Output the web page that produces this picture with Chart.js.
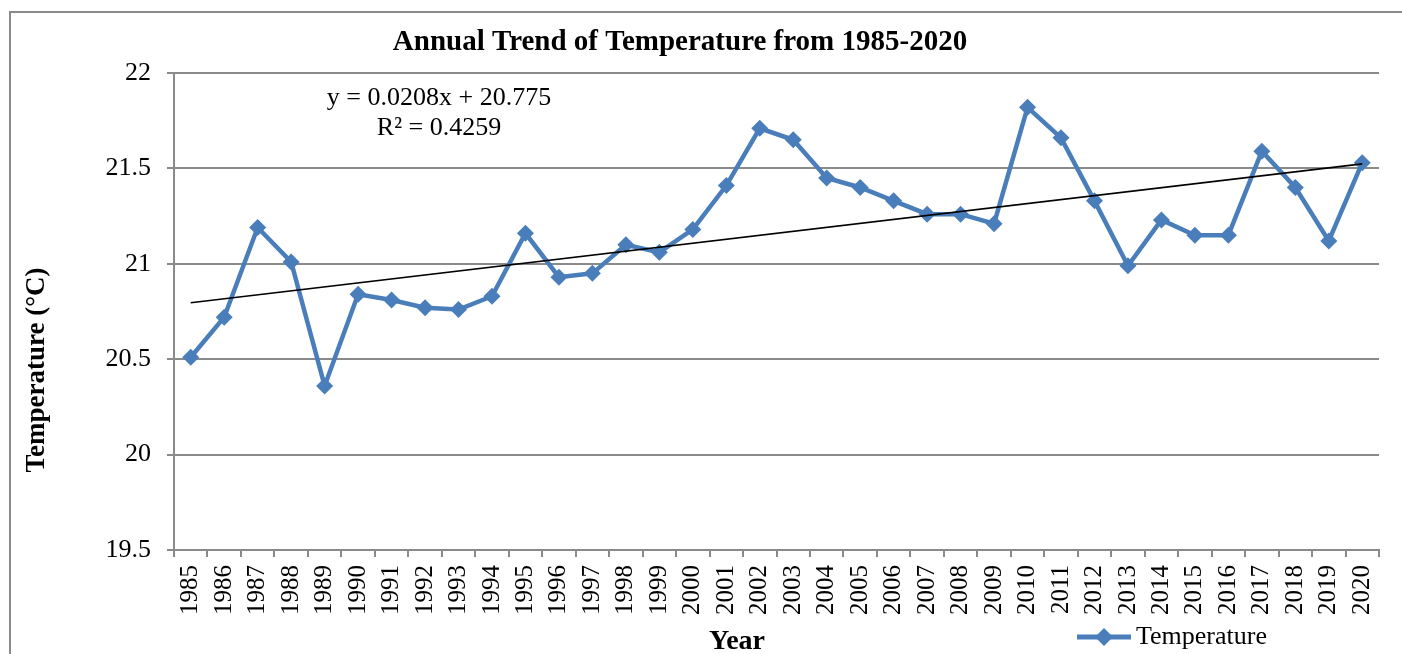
<!DOCTYPE html>
<html>
<head>
<meta charset="utf-8">
<script src="https://cdn.jsdelivr.net/npm/chart.js@4"></script>
<style>
html,body{margin:0;padding:0;background:#fff;}
#wrap{width:1402px;height:654px;position:relative;overflow:hidden;}
</style>
</head>
<body>
<div id="wrap"><canvas id="c" width="1402" height="654"></canvas></div>
<script>
const years = ['1985','1986','1987','1988','1989','1990','1991','1992','1993','1994','1995','1996','1997','1998','1999','2000','2001','2002','2003','2004','2005','2006','2007','2008','2009','2010','2011','2012','2013','2014','2015','2016','2017','2018','2019','2020'];
const temperature = [20.51,20.72,21.19,21.01,20.36,20.84,20.81,20.77,20.76,20.83,21.16,20.93,20.95,21.10,21.06,21.18,21.41,21.71,21.65,21.45,21.40,21.33,21.26,21.26,21.21,21.82,21.66,21.33,20.99,21.23,21.15,21.15,21.59,21.40,21.12,21.53];
const yTicks = [19.5,20,20.5,21,21.5,22];
const trendSlope = 0.0208;
const trendIntercept = 20.775;
const trendLabel = 'y = 0.0208x + 20.775';
const r2Label = 'R² = 0.4259';
const titleText = 'Annual Trend of Temperature from 1985-2020';
const xTitle = 'Year';
const yTitle = 'Temperature (°C)';
const seriesName = 'Temperature';

// linear trendline from the equation shown in the chart (x = 1..n)
const trend = years.map((_, i) => (i === 0 || i === years.length - 1) ? trendIntercept + trendSlope * (i + 1) : null);

const BLUE = '#4A7EBB';
const GRID = '#8A8A8A';
const SERIF = '"Liberation Serif","Times New Roman",serif';

const textPlugin = {
  id: 'texts',
  beforeDraw(chart) {
    const ctx = chart.ctx;
    ctx.save();
    ctx.strokeStyle = GRID;
    ctx.lineWidth = 2;
    ctx.beginPath();
    ctx.moveTo(10, 660);
    ctx.lineTo(10, 12);
    ctx.lineTo(1402, 12);
    ctx.stroke();
    ctx.restore();
  },
  afterDraw(chart) {
    const ctx = chart.ctx;
    ctx.save();
    ctx.fillStyle = '#000';
    ctx.textBaseline = 'middle';
    ctx.textAlign = 'center';
    ctx.font = 'bold 29px ' + SERIF;
    ctx.fillText(titleText, 680, 43);
    ctx.font = '26px ' + SERIF;
    ctx.fillText(trendLabel, 439, 98);
    ctx.fillText(r2Label, 439, 128);
    ctx.font = 'bold 28px ' + SERIF;
    ctx.fillText(xTitle, 737, 642);
    ctx.save();
    ctx.translate(37, 370);
    ctx.rotate(-Math.PI / 2);
    ctx.font = 'bold 27px ' + SERIF;
    ctx.fillText(yTitle, 0, 0);
    ctx.restore();
    // legend
    ctx.strokeStyle = BLUE;
    ctx.lineWidth = 5;
    ctx.beginPath();
    ctx.moveTo(1077, 637);
    ctx.lineTo(1131, 637);
    ctx.stroke();
    ctx.fillStyle = BLUE;
    ctx.beginPath();
    ctx.moveTo(1104, 628); ctx.lineTo(1113, 637); ctx.lineTo(1104, 646); ctx.lineTo(1095, 637);
    ctx.closePath(); ctx.fill();
    ctx.fillStyle = '#000';
    ctx.textAlign = 'left';
    ctx.font = '26px ' + SERIF;
    ctx.fillText(seriesName, 1136, 637);
    ctx.restore();
  }
};

new Chart(document.getElementById('c'), {
  type: 'line',
  data: {
    labels: years,
    datasets: [
      {
        label: seriesName,
        data: temperature,
        borderColor: BLUE,
        backgroundColor: BLUE,
        borderWidth: 4.5,
        pointStyle: 'rectRot',
        pointRadius: 8.5,
        pointHoverRadius: 8.5,
        pointBorderWidth: 0,
        tension: 0,
        order: 2
      },
      {
        label: 'Linear trend',
        data: trend,
        borderColor: '#000',
        borderWidth: 1.6,
        pointRadius: 0,
        spanGaps: true,
        tension: 0,
        order: 1
      }
    ]
  },
  options: {
    responsive: false,
    animation: false,
    events: [],
    layout: { padding: { left: 0, right: 23, top: 73, bottom: 0 } },
    plugins: { legend: { display: false }, title: { display: false }, tooltip: { enabled: false } },
    scales: {
      x: {
        offset: true,
        grid: { offset: true, drawOnChartArea: false, color: GRID, lineWidth: 2, tickLength: 7 },
        border: { color: GRID, width: 2 },
        ticks: { autoSkip: false, maxRotation: 90, minRotation: 90, padding: 8, color: '#000', font: { family: SERIF, size: 25 } },
        afterFit(s) { s.height = 104; }
      },
      y: {
        min: 19.5,
        max: 22,
        afterBuildTicks(s) { s.ticks = yTicks.map(v => ({ value: v })); },
        grid: { color: GRID, lineWidth: 2, tickLength: 7 },
        border: { color: GRID, width: 2 },
        ticks: { padding: 16, color: '#000', font: { family: SERIF, size: 26 }, callback: v => String(v) },
        afterFit(s) { s.width = 174; }
      }
    }
  },
  plugins: [textPlugin]
});
</script>
</body>
</html>
